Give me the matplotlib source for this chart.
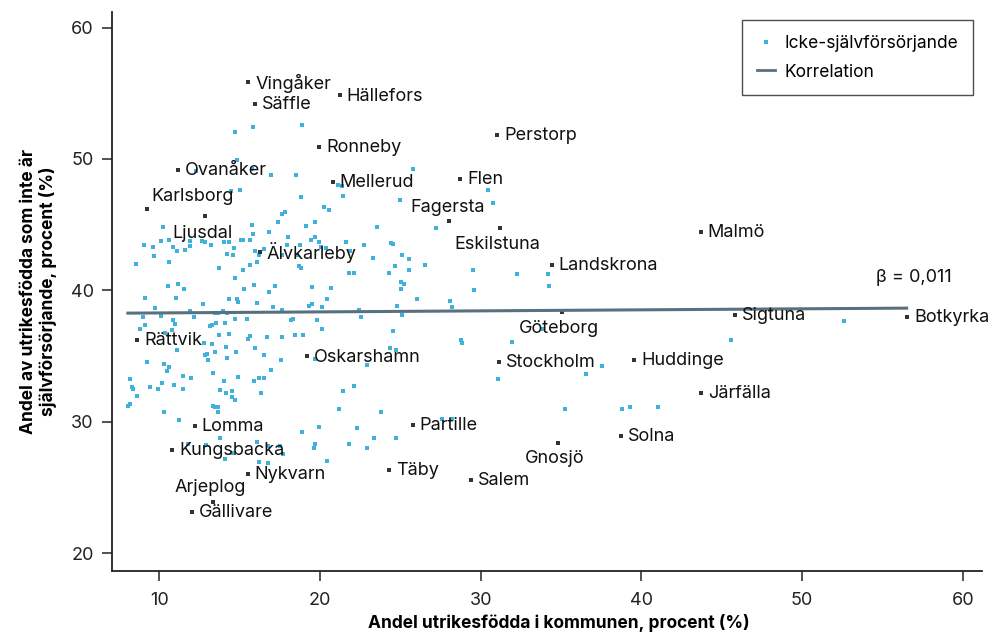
import matplotlib
matplotlib.use("Agg")
import matplotlib.pyplot as plt
from matplotlib.lines import Line2D

plt.rcParams['font.family'] = ['Inter', 'DejaVu Sans']

# kommuner utan namn (ljusblå punkter)
pts_x = [
    15.81, 14.69, 14.82, 15.77, 14.48, 15.02, 10.21, 15.79, 9.07, 9.63, 10.11, 10.62, 10.85, 11.12,
    11.62, 11.91, 11.91, 12.66, 12.84, 13.24, 14.04, 14.32, 14.67, 14.19, 14.57, 15.08, 15.21, 15.64,
    15.81, 15.98, 16.20, 16.52, 16.83, 9.69, 8.53, 10.62, 13.70, 15.19, 15.64, 16.08, 14.69, 15.89,
    15.27, 10.56, 11.16, 11.54, 9.13, 11.04, 14.34, 14.85, 16.81, 12.28,
    18.86, 25.77, 16.95, 18.49, 21.14, 21.35, 21.41, 18.80, 24.98, 20.25, 20.54, 17.80, 17.64, 17.39,
    19.15, 19.67, 23.57, 17.99, 19.67, 19.46, 19.94, 21.64, 22.74, 24.40, 24.54, 20.08, 20.37, 18.76,
    17.97, 17.64, 18.55, 21.87, 23.28, 25.08, 25.52, 26.52, 24.69, 25.56, 24.31, 21.79, 22.12, 18.71,
    18.84, 25.06, 25.23, 25.02, 17.18, 19.50, 20.70, 20.45, 26.02,
    9.73, 12.72, 14.90, 16.08, 11.91, 12.16, 13.47, 13.65, 13.98, 14.19, 8.97, 10.09, 10.83, 11.00,
    14.09, 14.69, 15.46, 13.16, 13.28, 13.53, 9.13, 8.80, 10.79, 10.34, 13.73, 14.34, 15.50, 15.64,
    16.70, 12.78, 13.26, 14.15, 15.98, 11.12, 12.95, 12.82, 13.45, 14.77, 16.52, 13.05, 14.21, 9.22,
    10.29, 10.62, 10.50, 13.36, 11.47, 11.95, 14.90, 15.89, 16.22, 16.52, 14.01, 8.16, 8.30, 8.36,
    8.61, 9.42, 9.90, 10.17, 10.91, 11.46, 13.78, 14.17, 14.52, 14.50, 14.69, 16.35, 8.07, 8.16,
    10.31, 13.36, 13.49, 13.63, 13.65, 11.24, 13.78, 16.06, 12.91, 11.79, 14.09, 16.22, 16.76, 14.54,
    16.76,
    17.09, 17.64, 19.32, 19.48, 20.12, 22.45, 22.57, 24.79, 25.10, 18.18, 18.34, 19.79, 20.12, 17.64,
    18.46, 18.96, 24.56, 24.36, 24.71, 19.67, 22.91, 17.57, 16.95, 21.41, 22.12, 21.20, 23.80, 18.86,
    19.96, 22.30, 23.36, 24.73, 19.67, 19.63, 21.79, 22.94, 17.51, 17.72, 20.42,
    30.47, 30.75, 27.20, 29.54, 29.60, 32.24, 34.17, 34.23, 28.09, 28.21, 28.79, 28.84, 31.97, 33.90,
    31.10, 36.53, 37.55, 27.57, 28.20, 35.25, 39.27, 41.05, 38.79, 52.60, 45.60,
]
pts_y = [
    52.41, 52.03, 49.95, 49.24, 47.59, 47.66, 44.82, 44.94, 43.47, 43.30, 43.78, 43.83, 43.32, 42.99,
    43.07, 43.78, 43.40, 43.76, 43.71, 43.42, 43.68, 43.68, 43.22, 42.79, 42.73, 43.86, 43.86, 43.80,
    44.29, 42.99, 42.66, 43.17, 44.41, 42.61, 42.02, 42.17, 41.74, 41.57, 41.95, 42.13, 40.91, 40.40,
    40.14, 40.37, 40.50, 40.10, 39.41, 39.41, 39.36, 39.36, 39.89, 49.06,
    52.59, 49.24, 48.75, 48.75, 48.04, 47.97, 47.20, 47.08, 46.85, 46.37, 46.08, 45.93, 45.83, 45.17,
    44.92, 45.17, 44.84, 44.08, 44.08, 43.86, 43.68, 43.68, 43.42, 43.57, 43.50, 43.30, 43.22, 43.47,
    43.47, 42.68, 42.66, 43.02, 42.46, 42.66, 42.38, 41.95, 41.85, 41.54, 41.29, 41.36, 41.31, 41.85,
    41.74, 40.65, 40.50, 40.12, 40.30, 40.25, 40.22, 39.38, 39.34,
    38.67, 38.93, 39.08, 39.03, 38.45, 38.01, 38.27, 38.27, 38.42, 38.27, 37.97, 38.07, 37.71, 37.41,
    37.49, 37.82, 37.85, 37.30, 37.38, 37.53, 37.33, 37.08, 36.95, 36.72, 36.57, 36.70, 36.32, 36.52,
    36.44, 35.98, 35.90, 35.72, 35.60, 35.45, 35.17, 35.09, 35.30, 35.30, 35.12, 34.74, 34.89, 34.56,
    34.43, 34.20, 33.90, 33.72, 33.47, 33.34, 33.40, 33.14, 33.34, 33.34, 33.11, 33.24, 32.66, 32.53,
    32.00, 32.66, 32.53, 32.94, 32.83, 32.48, 32.43, 32.22, 32.33, 31.87, 31.69, 32.18, 31.21, 31.36,
    30.73, 31.21, 31.13, 31.13, 30.77, 30.12, 28.80, 28.47, 28.26, 28.31, 27.15, 26.92, 26.87, 27.63,
    28.19,
    38.73, 38.47, 38.85, 39.00, 38.73, 38.47, 37.99, 38.85, 38.14, 37.77, 37.85, 37.71, 37.10, 36.49,
    36.59, 36.57, 36.92, 35.65, 35.48, 34.81, 34.33, 34.67, 33.95, 32.33, 32.76, 30.96, 30.73, 29.24,
    29.60, 29.50, 28.78, 28.73, 28.32, 27.99, 28.32, 28.04, 28.19, 27.56, 27.05,
    47.66, 46.62, 44.73, 41.57, 40.05, 41.21, 41.26, 40.30, 39.18, 38.72, 36.20, 35.99, 36.09, 37.10,
    33.27, 33.60, 34.26, 30.23, 30.23, 30.98, 31.15, 31.15, 31.00, 37.66, 36.26,
]

# namngivna kommuner
names = ["Vingåker", "Säffle", "Hällefors", "Ronneby", "Ovanåker", "Mellerud", "Karlsborg", "Ljusdal",
         "Älvkarleby", "Rättvik", "Oskarshamn", "Lomma", "Kungsbacka", "Nykvarn", "Arjeplog", "Gällivare",
         "Perstorp", "Flen", "Fagersta", "Eskilstuna", "Landskrona", "Göteborg", "Stockholm", "Huddinge",
         "Partille", "Solna", "Gnosjö", "Täby", "Salem", "Malmö", "Sigtuna", "Botkyrka", "Järfälla"]
names_x = [15.54, 15.96, 21.24, 19.96, 11.16, 20.79, 9.22, 12.84, 16.27, 8.63, 19.21, 12.22, 10.81,
           15.50, 13.36, 12.05, 31.03, 28.71, 28.05, 31.20, 34.42, 35.04, 31.14, 39.54, 25.77, 38.71,
           34.79, 24.31, 29.38, 43.69, 45.84, 56.55, 43.69]
names_y = [55.83, 54.21, 54.84, 50.94, 49.18, 48.27, 46.19, 45.63, 42.92, 36.21, 34.97, 29.69, 27.84,
           26.01, 23.92, 23.14, 51.85, 48.48, 45.25, 44.74, 41.95, 38.39, 34.56, 34.71, 29.74, 28.95,
           28.37, 26.34, 25.55, 44.44, 38.14, 37.97, 32.22]

# korrelationslinje
line_x = [8.05, 56.5]
line_y = [38.27, 38.65]
beta_text = "β = 0,011"

# etiketter som inte sitter till höger om punkten
special = {
    "Karlsborg": (33, 9, "center"),
    "Ljusdal": (-2, -12, "center"),
    "Arjeplog": (-2, 10, "center"),
    "Fagersta": (-1, 10, "center"),
    "Eskilstuna": (-2, -12, "center"),
    "Göteborg": (-2, -12, "center"),
    "Gnosjö": (-2, -11, "center"),
}

cyan = "#3fb1da"
dark = "#333333"
line_col = "#58707f"

fig = plt.figure(figsize=(9.96, 6.38), dpi=100)
ax = fig.add_axes([0.1121, 0.1055, 0.874, 0.876])

ax.scatter(pts_x, pts_y, s=10, marker="s", color=cyan, linewidths=0, zorder=2)
ax.scatter(names_x, names_y, s=5, marker="s", color=dark, linewidths=0, zorder=3)
ax.plot(line_x, line_y, color=line_col, lw=2.2, zorder=4)

for n, x, y in zip(names, names_x, names_y):
    if n in special:
        dx, dy, ha = special[n]
    else:
        dx, dy, ha = 5, -0.5, "left"
    ax.annotate(n, (x, y), xytext=(dx, dy), textcoords="offset points",
                ha=ha, va="center", fontsize=13, color="#111111", zorder=5)

ax.text(54.6, 40.95, beta_text, ha="left", va="center", fontsize=13, color="#111111")

ax.set_xlim(7.04, 61.2)
ax.set_ylim(18.67, 61.2)
ax.set_xticks([10, 20, 30, 40, 50, 60])
ax.set_yticks([20, 30, 40, 50, 60])

for s in ["top", "right"]:
    ax.spines[s].set_visible(False)
for s in ["left", "bottom"]:
    ax.spines[s].set_linewidth(1.3)
    ax.spines[s].set_color("#222222")
ax.tick_params(axis="both", length=7, width=1.1, color="#222222", labelsize=13, labelcolor="#222222")
ax.tick_params(axis="x", pad=8)
ax.tick_params(axis="y", pad=6)

ax.set_xlabel("Andel utrikesfödda i kommunen, procent (%)", fontsize=12.5, fontweight="bold")
ax.xaxis.set_label_coords(0.514, -0.077)
ax.xaxis.label.set_va("top")
ax.set_ylabel("Andel av utrikesfödda som inte är\nsjälvförsörjande, procent (%)", fontsize=12.5,
              fontweight="bold", linespacing=1.1)
ax.yaxis.set_label_coords(-0.063, 0.5)

handles = [
    Line2D([], [], marker="s", linestyle="none", markersize=3, color=cyan, markeredgewidth=0),
    Line2D([], [], color=line_col, lw=2),
]
leg = ax.legend(handles, ["Icke-självförsörjande", "Korrelation"], loc="upper right",
                bbox_to_anchor=(1.0, 1.0), fontsize=12.5, frameon=True, fancybox=False,
                handlelength=1.0, handletextpad=0.6, borderpad=0.85, labelspacing=0.65)
leg.get_frame().set_edgecolor("#222222")
leg.get_frame().set_linewidth(1.0)

fig.savefig("out.png", dpi=100)
